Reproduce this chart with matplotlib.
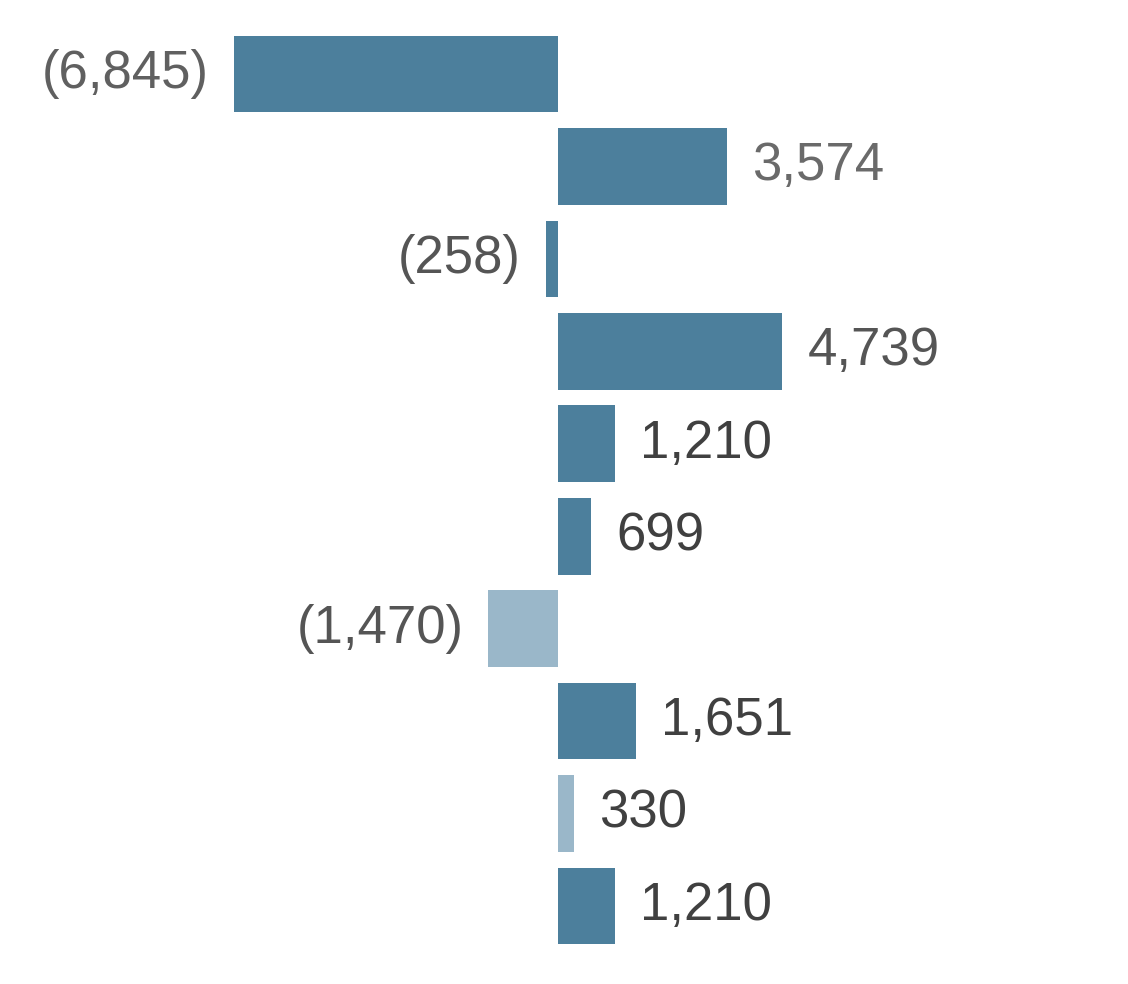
import matplotlib
matplotlib.use("Agg")
import matplotlib.pyplot as plt

values = [-6845, 3574, -258, 4739, 1210, 699, -1470, 1651, 330, 1210]
labels = ["(6,845)", "3,574", "(258)", "4,739", "1,210", "699", "(1,470)", "1,651", "330", "1,210"]
light = [False, False, False, False, False, False, True, False, True, False]
label_colors = ["#606060", "#6a6a6a", "#555555", "#555555", "#404040", "#404040", "#555555", "#404040", "#404040", "#404040"]

fig = plt.figure(figsize=(11.28, 9.84), dpi=100)
ax = fig.add_axes([0, 0, 1, 1])
ppu = 324 / 6845.0
ax.set_xlim(-558 / ppu, (1128 - 558) / ppu)
step = 92.44
ax.set_ylim((984 - 74) / step, -74 / step)
ax.axis("off")

for i, (v, lab, lt, lc) in enumerate(zip(values, labels, light, label_colors)):
    ax.barh(i, v, height=0.83, color="#9AB7C9" if lt else "#4C7F9C")
    off = 25 / ppu
    if v >= 0:
        ax.text(v + off, i, lab, ha="left", va="center", fontsize=38,
                color=lc, family=["Liberation Sans", "DejaVu Sans"])
    else:
        ax.text(v - off, i, lab, ha="right", va="center", fontsize=38,
                color=lc, family=["Liberation Sans", "DejaVu Sans"])

fig.savefig("out.png", dpi=100)
